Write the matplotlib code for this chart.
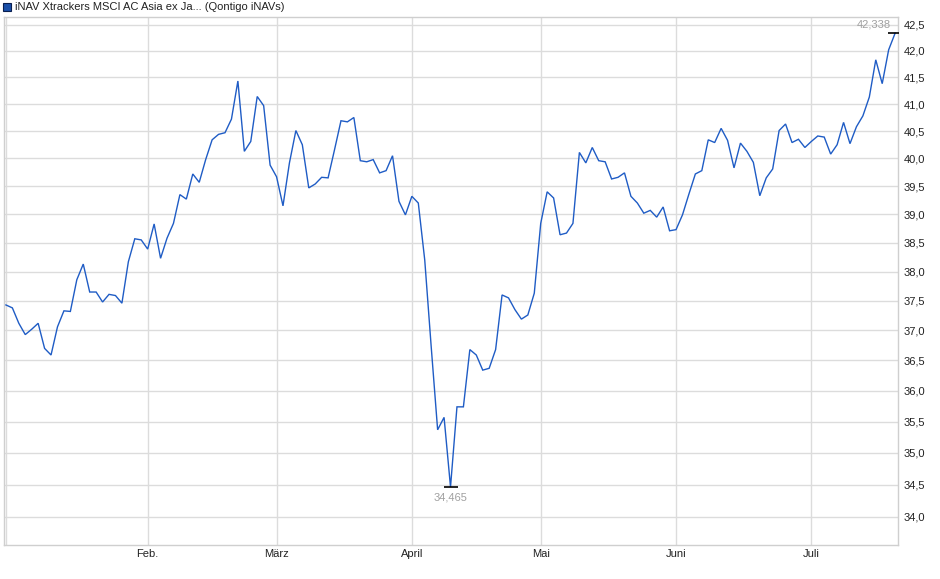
import numpy as np
import pandas as pd
import matplotlib
matplotlib.use("Agg")
import matplotlib.pyplot as plt
from matplotlib.ticker import FixedLocator, FixedFormatter, NullLocator, NullFormatter

plt.rcParams['font.family'] = ['Liberation Sans', 'DejaVu Sans']

# ---- data ----
start_date = "2025-01-02"
end_date = "2025-07-18"
holidays = ["2025-04-18", "2025-04-21", "2025-05-01"]

values = [
    37.43, 37.38, 37.12, 36.93, 37.02, 37.12, 36.70, 36.59, 37.06, 37.33,
    37.32, 37.86, 38.13, 37.65, 37.65, 37.48, 37.61, 37.59, 37.46, 38.17,
    38.57, 38.55, 38.39, 38.83, 38.23, 38.58, 38.84, 39.35, 39.27, 39.72,
    39.57, 39.98, 40.34, 40.44, 40.47, 40.72, 41.43, 40.13, 40.31, 41.14,
    40.97, 39.88, 39.67, 39.15, 39.92, 40.51, 40.25, 39.47, 39.54, 39.66,
    39.65, 40.16, 40.69, 40.67, 40.75, 39.96, 39.94, 39.98, 39.74, 39.78,
    40.05, 39.23, 38.99, 39.32, 39.20, 38.20, 36.73, 35.37, 35.57, 34.465,
    35.74, 35.74, 36.68, 36.59, 36.34, 36.37, 36.68, 37.60, 37.55, 37.35,
    37.19, 37.26, 37.63, 38.84, 39.40, 39.29, 38.64, 38.67, 38.84, 40.11,
    39.92, 40.20, 39.96, 39.94, 39.63, 39.66, 39.74, 39.32, 39.20, 39.02,
    39.07, 38.95, 39.13, 38.71, 38.73, 38.99, 39.36, 39.72, 39.78, 40.34,
    40.29, 40.55, 40.33, 39.83, 40.28, 40.13, 39.93, 39.33, 39.65, 39.81,
    40.51, 40.63, 40.29, 40.35, 40.20, 40.31, 40.41, 40.39, 40.08, 40.25,
    40.66, 40.27, 40.58, 40.78, 41.13, 41.83, 41.38, 42.02, 42.338,
]

month_labels = ["", "Feb.", "März", "April", "Mai", "Juni", "Juli"]
y_ticks = [34.0, 34.5, 35.0, 35.5, 36.0, 36.5, 37.0, 37.5, 38.0, 38.5,
           39.0, 39.5, 40.0, 40.5, 41.0, 41.5, 42.0, 42.5]
legend_label = "iNAV Xtrackers MSCI AC Asia ex Ja... (Qontigo iNAVs)"

# ---- build trading-day axis ----
dates = pd.bdate_range(start_date, end_date)
dates = dates[~dates.isin(pd.to_datetime(holidays))]
n = min(len(dates), len(values))
dates = dates[:n]
vals = np.array(values[:n])
x = np.arange(n)

months = dates.month
month_idx = [0] + [i for i in range(1, n) if months[i] != months[i - 1]]

# ---- figure ----
fig = plt.figure(figsize=(9.4, 5.79), dpi=100)
ax = fig.add_axes([4 / 940, 1 - 545 / 579, 894 / 940, 528 / 579])

line_color = "#1f5cc5"
grid_color = "#dcdcdc"

ax.plot(x, vals, color=line_color, lw=1.0, zorder=3, solid_joinstyle="miter")

ax.set_yscale("log")
ax.set_ylim(33.57, 42.65)
ax.set_xlim(-0.3, n - 1 + 0.45)

ax.yaxis.set_major_locator(FixedLocator(y_ticks))
ax.yaxis.set_major_formatter(FixedFormatter([f"{v:.1f}".replace(".", ",") for v in y_ticks]))
ax.yaxis.set_minor_locator(NullLocator())
ax.yaxis.set_minor_formatter(NullFormatter())
ax.yaxis.tick_right()

ax.xaxis.set_major_locator(FixedLocator(month_idx))
ax.xaxis.set_major_formatter(FixedFormatter(month_labels[:len(month_idx)]))

ax.tick_params(axis="both", length=0, labelsize=8, labelcolor="#222222")
ax.tick_params(axis="y", pad=4)
ax.tick_params(axis="x", pad=3)

ax.grid(True, color=grid_color, lw=1.0, zorder=0)
for s in ax.spines.values():
    s.set_color("#cfcfcf")
    s.set_linewidth(1.0)

# max / min markers
imax = int(np.argmax(vals))
imin = int(np.argmin(vals))
for i in (imax, imin):
    ax.plot([x[i]], [vals[i]], marker="_", markersize=10, mew=1.2, color="black", zorder=4)

fmt = lambda v: f"{v:.3f}".replace(".", ",")
ax.annotate(fmt(vals[imax]), (x[imax], vals[imax]), xytext=(-3, 6), textcoords="offset points",
            ha="right", va="center", fontsize=8, color="#a0a0a0")
ax.annotate(fmt(vals[imin]), (x[imin], vals[imin]), xytext=(0, -7.5), textcoords="offset points",
            ha="center", va="center", fontsize=8, color="#a0a0a0")

# legend
fig.patches.append(plt.Rectangle((3 / 940, 1 - 11 / 579), 8 / 940, 8 / 579,
                                 transform=fig.transFigure, facecolor="#1a4fa8",
                                 edgecolor="#0a1f50", lw=0.8))
fig.text(15 / 940, 1 - 7 / 579, legend_label, fontsize=8, color="#222222",
         ha="left", va="center")

fig.savefig("out.png", dpi=100)
